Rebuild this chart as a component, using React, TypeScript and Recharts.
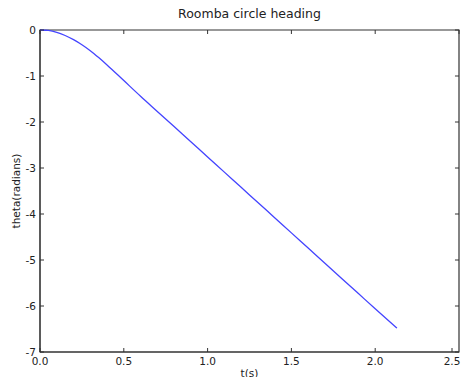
import React from 'react';
import { LineChart, Line, XAxis, YAxis, ReferenceArea, ReferenceLine } from 'recharts';

const times = [0, 0.05, 0.1, 0.15, 0.2, 0.25, 0.3, 0.35, 0.4, 0.5, 0.6, 0.7, 0.8, 0.9, 1.0, 1.1, 1.2, 1.3, 1.4, 1.5, 1.6, 1.7, 1.8, 1.9, 2.0, 2.13];
const theta = [0, -0.01, -0.05, -0.12, -0.21, -0.32, -0.45, -0.6, -0.76, -1.1, -1.44, -1.77, -2.1, -2.43, -2.76, -3.09, -3.42, -3.75, -4.08, -4.41, -4.74, -5.07, -5.4, -5.73, -6.06, -6.48];
const xTicks = [0, 0.5, 1.0, 1.5, 2.0, 2.5];
const yTicks = [0, -1, -2, -3, -4, -5, -6, -7];

const data = times.map((t, i) => ({ t, theta: theta[i] }));

const AX = '#333';
const TXT = '#222';
const FONT = 'DejaVu Sans, sans-serif';
const X_MIN = 0;
const X_MAX = 2.5;
const Y_MIN = -7;
const Y_MAX = 0;
const TICK_DX = 0.024; // inward tick length in t units
const TICK_DY = 0.087; // inward tick length in theta units

const BottomTick = (props: any) => {
  const { x, y, payload } = props;
  return (
    <g>
      <line x1={x} x2={x} y1={y} y2={y - 4} stroke={AX} strokeWidth={1} />
      <text x={x} y={y + 13} textAnchor="middle" fontSize={10.5} fontFamily={FONT} fill={TXT}>
        {Number(payload.value).toFixed(1)}
      </text>
    </g>
  );
};
const LeftTick = (props: any) => {
  const { x, y, payload } = props;
  return (
    <g>
      <line x1={x} x2={x + 4} y1={y} y2={y} stroke={AX} strokeWidth={1} />
      <text x={x - 4} y={y + 4} textAnchor="end" fontSize={10.5} fontFamily={FONT} fill={TXT}>
        {String(payload.value)}
      </text>
    </g>
  );
};

export default function App() {
  return (
    <div style={{ position: 'absolute', left: 0, top: 0, width: 462, height: 377 }}>
      <div
        style={{
          position: 'absolute',
          left: 40,
          width: 419,
          top: 6,
          textAlign: 'center',
          fontFamily: FONT,
          fontSize: 12.5,
          color: TXT,
          lineHeight: '16px',
        }}
      >
        Roomba circle heading
      </div>
      <LineChart width={462} height={377} data={data} margin={{ top: 30, right: 3, left: 0, bottom: 0 }}>
        <XAxis
          dataKey="t"
          type="number"
          domain={[X_MIN, X_MAX]}
          ticks={xTicks}
          height={25}
          tickSize={0}
          tickMargin={0}
          tick={<BottomTick />}
          stroke={AX}
          label={{
            content: (p: any) => {
              const vb = p.viewBox;
              return (
                <text x={vb.x + vb.width / 2} y={vb.y + 25} textAnchor="middle" fontSize={10.5} fontFamily={FONT} fill={TXT}>
                  t(s)
                </text>
              );
            },
          }}
        />
        <YAxis
          type="number"
          domain={[Y_MIN, Y_MAX]}
          ticks={yTicks}
          width={40}
          tickSize={0}
          tickMargin={0}
          tick={<LeftTick />}
          stroke={AX}
          label={{
            content: (p: any) => {
              const vb = p.viewBox;
              const cx = vb.x + 20;
              const cy = vb.y + vb.height / 2;
              return (
                <text x={cx} y={cy} transform={`rotate(-90 ${cx} ${cy})`} textAnchor="middle" fontSize={10.5} fontFamily={FONT} fill={TXT}>
                  theta(radians)
                </text>
              );
            },
          }}
        />
        <ReferenceArea x1={X_MIN} x2={X_MAX} y1={Y_MIN} y2={Y_MAX} fill="none" stroke={AX} strokeWidth={1.2} ifOverflow="visible" />
        {xTicks.map((v) => (
          <ReferenceLine
            key={`tx${v}`}
            segment={[{ x: v, y: Y_MAX }, { x: v, y: Y_MAX - TICK_DY }]}
            stroke={AX}
            strokeWidth={1}
            ifOverflow="visible"
          />
        ))}
        {yTicks.map((v) => (
          <ReferenceLine
            key={`ty${v}`}
            segment={[{ x: X_MAX, y: v }, { x: X_MAX - TICK_DX, y: v }]}
            stroke={AX}
            strokeWidth={1}
            ifOverflow="visible"
          />
        ))}
        <Line
          type="monotone"
          dataKey="theta"
          stroke="#4444ff"
          strokeWidth={1.3}
          dot={false}
          isAnimationActive={false}
        />
      </LineChart>
    </div>
  );
}
